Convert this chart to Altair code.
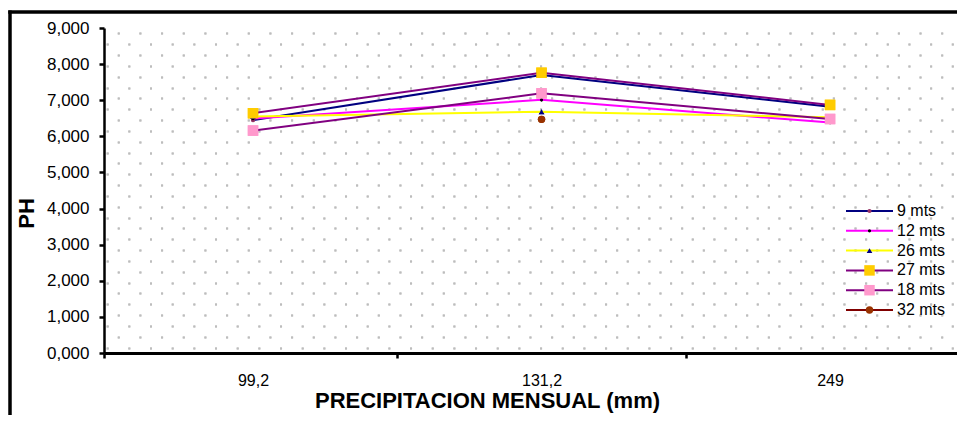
import altair as alt
import pandas as pd

# ---- data ----
precip_labels = ["99,2", "131,2", "249"]
series_names = ["9 mts", "12 mts", "26 mts", "27 mts", "18 mts", "32 mts"]
ph_9 = [6.45, 7.70, 6.82]
ph_12 = [6.49, 7.01, 6.38]
ph_26 = [6.55, 6.68, 6.53]
ph_27 = [6.64, 7.76, 6.87]
ph_18 = [6.16, 7.19, 6.48]
ph_32 = [None, 6.47, None]
y_ticks = [0, 1, 2, 3, 4, 5, 6, 7, 8, 9]

# ---- styles ----
line_colors = ["#000080", "#FF00FF", "#FFFF00", "#800080", "#800080", "#800000"]
marker_fill = ["#993366", "#000000", "#000080", "#FFCC00", "#FF99CC", "#993300"]
marker_shape = ["circle", "circle", "triangle-up", "square", "square", "circle"]
marker_size = [18, 10, 32, 110, 110, 55]

FONT = "Liberation Sans"
W, H = 853, 325

rows = []
for name, vals, ms in zip(series_names, [ph_9, ph_12, ph_26, ph_27, ph_18, ph_32], marker_size):
    for i, v in enumerate(vals):
        if v is not None:
            rows.append({"serie": name, "pos": i, "ph": v, "msize": ms})
df = pd.DataFrame(rows)
legend_df = pd.DataFrame({"serie": series_names, "msize": marker_size})
dummy = pd.DataFrame({"k": [0]})

# dotted background texture (grid rows)
grid_vals = [round(0.15 + 0.3 * k, 2) for k in range(30)]

x_min, x_max = -0.5165, 2.44
x_scale = alt.Scale(domain=[x_min, x_max], nice=False, zero=False)
y_scale = alt.Scale(domain=[0, 9], nice=False, zero=False)
color_scale = alt.Scale(domain=series_names, range=line_colors)
fill_scale = alt.Scale(domain=series_names, range=marker_fill)
shape_scale = alt.Scale(domain=series_names, range=marker_shape)

lbl_array = "[" + ",".join("'" + s + "'" for s in precip_labels) + "]"
x_axis = alt.Axis(
    values=[x_min, 0, 0.5, 1, 1.5, 2],
    labelExpr="datum.value % 1 == 0 ? " + lbl_array + "[datum.value] : ''",
    tickOpacity={"condition": {"test": "datum.value % 1 == 0", "value": 0}, "value": 1},
    tickSize=5, tickWidth=2.5, tickColor="black",
    domainColor="black", domainWidth=3,
    labelFont=FONT, labelFontSize=16, labelColor="black",
    labelBaseline="alphabetic", labelPadding=27,
    labelOverlap=False, labelFlush=False,
    grid=False,
    title="PRECIPITACION MENSUAL (mm)",
    titleFont=FONT, titleFontSize=22, titleFontWeight="bold", titleColor="black",
    titleX=383, titleY=54, titleAlign="center", titleBaseline="alphabetic",
)
y_axis = alt.Axis(
    values=y_ticks,
    labelExpr="replace(format(datum.value, '.3f'), '.', ',')",
    tickSize=5, tickWidth=2.5, tickColor="black",
    domainColor="black", domainWidth=2.5,
    labelFont=FONT, labelFontSize=17, labelColor="black",
    labelPadding=10, labelOverlap=False,
    grid=False,
    title="PH",
    titleFont=FONT, titleFontSize=22, titleFontWeight="bold", titleColor="black",
    titleAngle=270, titleX=-77.5, titleY=185, titleAlign="center", titleBaseline="middle",
)
grid_axis = alt.Axis(
    orient="right",
    values=grid_vals,
    grid=True, gridColor="#bdbdbd", gridWidth=2, gridDash=[2, 19.67],
    gridDashOffset={"condition": {"test": "round((datum.value - 0.15) / 0.3) % 2 == 1", "value": 7.37}, "value": 17.97},
    labels=False, ticks=False, domain=False, title=None,
)

lines = alt.Chart(df).mark_line(strokeWidth=2).encode(
    x=alt.X("pos:Q", scale=x_scale, axis=x_axis),
    y=alt.Y("ph:Q", scale=y_scale, axis=y_axis),
    color=alt.Color("serie:N", scale=color_scale, legend=None),
    detail="serie:N",
)

points = alt.Chart(df).mark_point(filled=True, opacity=1).encode(
    x=alt.X("pos:Q", scale=x_scale, axis=x_axis),
    y=alt.Y("ph:Q", scale=y_scale, axis=grid_axis),
    fill=alt.Fill("serie:N", scale=fill_scale, legend=None),
    shape=alt.Shape("serie:N", scale=shape_scale, legend=None),
    size=alt.Size("msize:Q", scale=None, legend=None),
)

leg_y = alt.Y("serie:N", scale=alt.Scale(type="point", domain=series_names, range=[183, 282], padding=0), axis=None)

leg_lines = alt.Chart(legend_df).mark_rule(strokeWidth=2).encode(
    x=alt.value(742), x2=alt.value(789), y=leg_y,
    color=alt.Color("serie:N", scale=color_scale, legend=None),
)
leg_points = alt.Chart(legend_df).mark_point(filled=True, opacity=1).encode(
    x=alt.value(765.5), y=leg_y,
    fill=alt.Fill("serie:N", scale=fill_scale, legend=None),
    shape=alt.Shape("serie:N", scale=shape_scale, legend=None),
    size=alt.Size("msize:Q", scale=None, legend=None),
)
leg_text = alt.Chart(legend_df).mark_text(align="left", baseline="middle", font=FONT, fontSize=16, color="black").encode(
    x=alt.value(793), y=leg_y, text="serie:N",
)

frame_v = alt.Chart(dummy).mark_rule(color="black", strokeWidth=3.5).encode(
    x=alt.value(-94), y=alt.value(-17.5), y2=alt.value(H + 100),
)
frame_h = alt.Chart(dummy).mark_rule(color="black", strokeWidth=3.5).encode(
    x=alt.value(-95.75), x2=alt.value(W + 50), y=alt.value(-16),
)

chart = alt.layer(
    points, lines, points, leg_lines, leg_points, leg_text, frame_v, frame_h
).resolve_scale(y="independent").properties(
    width=W, height=H,
    autosize=alt.AutoSizeParams(type="none"),
    padding={"left": 96, "top": 20, "right": 0, "bottom": 62},
    background="white",
).configure_view(stroke=None)

chart.save("out.html", embed_options={"renderer": "svg", "actions": False})
